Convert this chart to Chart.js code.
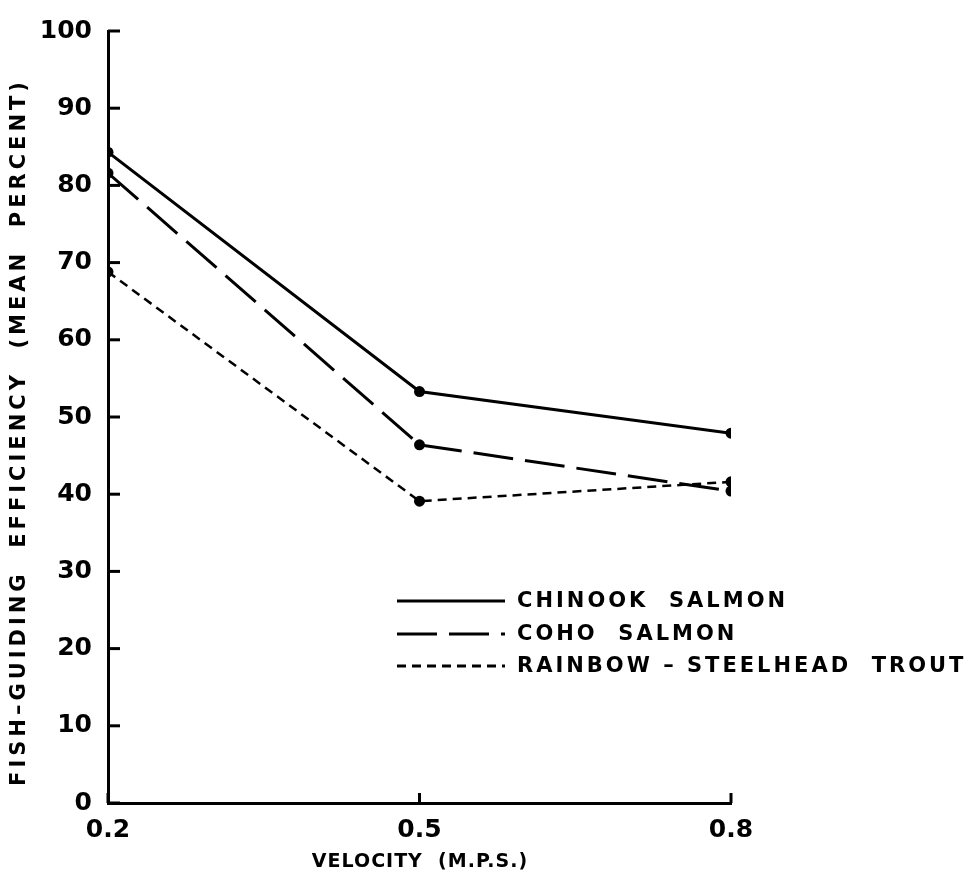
<!DOCTYPE html>
<html>
<head>
<meta charset="utf-8">
<script src="https://cdn.jsdelivr.net/npm/chart.js@4.4.1/dist/chart.umd.min.js"></script>
<style>
  html, body { margin: 0; padding: 0; background: #fff; }
  #wrap { width: 975px; height: 879px; }
</style>
</head>
<body>
<div id="wrap"><canvas id="chart" width="975" height="879"></canvas></div>
<script>
// values
const velocities = [0.2, 0.5, 0.8];
const xTickLabels = ['0.2', '0.5', '0.8'];
const chinook = [84.3, 53.3, 47.9];
const coho = [81.6, 46.4, 40.4];
const trout = [68.8, 39.1, 41.6];

const seriesNames = ['CHINOOK  SALMON', 'COHO  SALMON', 'RAINBOW – STEELHEAD  TROUT'];
const xTitle = 'VELOCITY  (M.P.S.)';
const yTitle = 'FISH–GUIDING  EFFICIENCY  (MEAN  PERCENT)';

const INK = '#000';
const FONT = '"DejaVu Sans", sans-serif';

function toPoints(values) {
  return values.map((v, i) => ({ x: velocities[i], y: v }));
}

// inward tick marks, axis titles and the legend
const decorations = {
  id: 'decorations',
  afterDraw(chart) {
    const { ctx, chartArea } = chart;
    const xs = chart.scales.x;
    const ys = chart.scales.y;
    ctx.save();
    ctx.strokeStyle = INK;
    ctx.lineWidth = 3;
    ctx.setLineDash([]);

    ys.ticks.forEach(t => {
      const py = ys.getPixelForValue(t.value);
      ctx.beginPath();
      ctx.moveTo(chartArea.left, py);
      ctx.lineTo(chartArea.left + 12, py);
      ctx.stroke();
    });
    xs.ticks.forEach(t => {
      const px = xs.getPixelForValue(t.value);
      ctx.beginPath();
      ctx.moveTo(px, chartArea.bottom);
      ctx.lineTo(px, chartArea.bottom - 10);
      ctx.stroke();
    });

    ctx.fillStyle = INK;
    ctx.font = 'bold 19px ' + FONT;
    ctx.letterSpacing = '1px';
    ctx.textAlign = 'center';
    ctx.textBaseline = 'middle';
    ctx.fillText(xTitle, 420, 862);

    ctx.save();
    ctx.translate(20, 432);
    ctx.rotate(-Math.PI / 2);
    ctx.font = 'bold 21px ' + FONT;
    ctx.letterSpacing = '4px';
    ctx.fillText(yTitle, 0, 0);
    ctx.restore();

    // legend
    const rows = [601, 634, 666];
    ctx.textAlign = 'left';
    ctx.font = 'bold 21px ' + FONT;
    ctx.letterSpacing = '3px';
    chart.data.datasets.forEach((ds, i) => {
      ctx.beginPath();
      ctx.lineWidth = 3;
      ctx.setLineDash(ds.borderDash || []);
      ctx.moveTo(397, rows[i]);
      ctx.lineTo(505, rows[i]);
      ctx.stroke();
      ctx.setLineDash([]);
      ctx.fillText(seriesNames[i], 517, rows[i] + 1);
    });
    ctx.restore();
  }
};

const lineStyle = {
  borderColor: INK,
  backgroundColor: INK,
  borderWidth: 3,
  pointRadius: 5.5,
  pointBackgroundColor: INK,
  pointBorderColor: INK,
  pointBorderWidth: 0,
  tension: 0,
  fill: false
};

new Chart(document.getElementById('chart'), {
  type: 'line',
  data: {
    datasets: [
      { ...lineStyle, label: seriesNames[0], data: toPoints(chinook), borderDash: [] },
      { ...lineStyle, label: seriesNames[1], data: toPoints(coho), borderDash: [40, 12] },
      { ...lineStyle, label: seriesNames[2], data: toPoints(trout), borderDash: [9, 6], borderWidth: 2.5 }
    ]
  },
  options: {
    responsive: false,
    animation: false,
    layout: { padding: { left: 0, right: 244, top: 21, bottom: 0 } },
    plugins: {
      legend: { display: false },
      tooltip: { enabled: false }
    },
    scales: {
      x: {
        type: 'linear',
        min: 0.2,
        max: 0.8,
        afterBuildTicks(scale) {
          scale.ticks = velocities.map(v => ({ value: v }));
        },
        afterFit(scale) { scale.height = 76; },
        grid: { display: false, drawTicks: false },
        border: { display: true, color: INK, width: 3 },
        ticks: {
          color: INK,
          padding: 12,
          maxRotation: 0,
          font: { family: FONT, size: 25, weight: 'bold' },
          callback: (v, i) => xTickLabels[i]
        }
      },
      y: {
        min: 0,
        max: 100,
        afterFit(scale) { scale.width = 108; },
        grid: { display: false, drawTicks: false },
        border: { display: true, color: INK, width: 3 },
        ticks: {
          stepSize: 10,
          color: INK,
          padding: 16,
          font: { family: FONT, size: 25, weight: 'bold' }
        }
      }
    }
  },
  plugins: [decorations]
});
</script>
</body>
</html>
